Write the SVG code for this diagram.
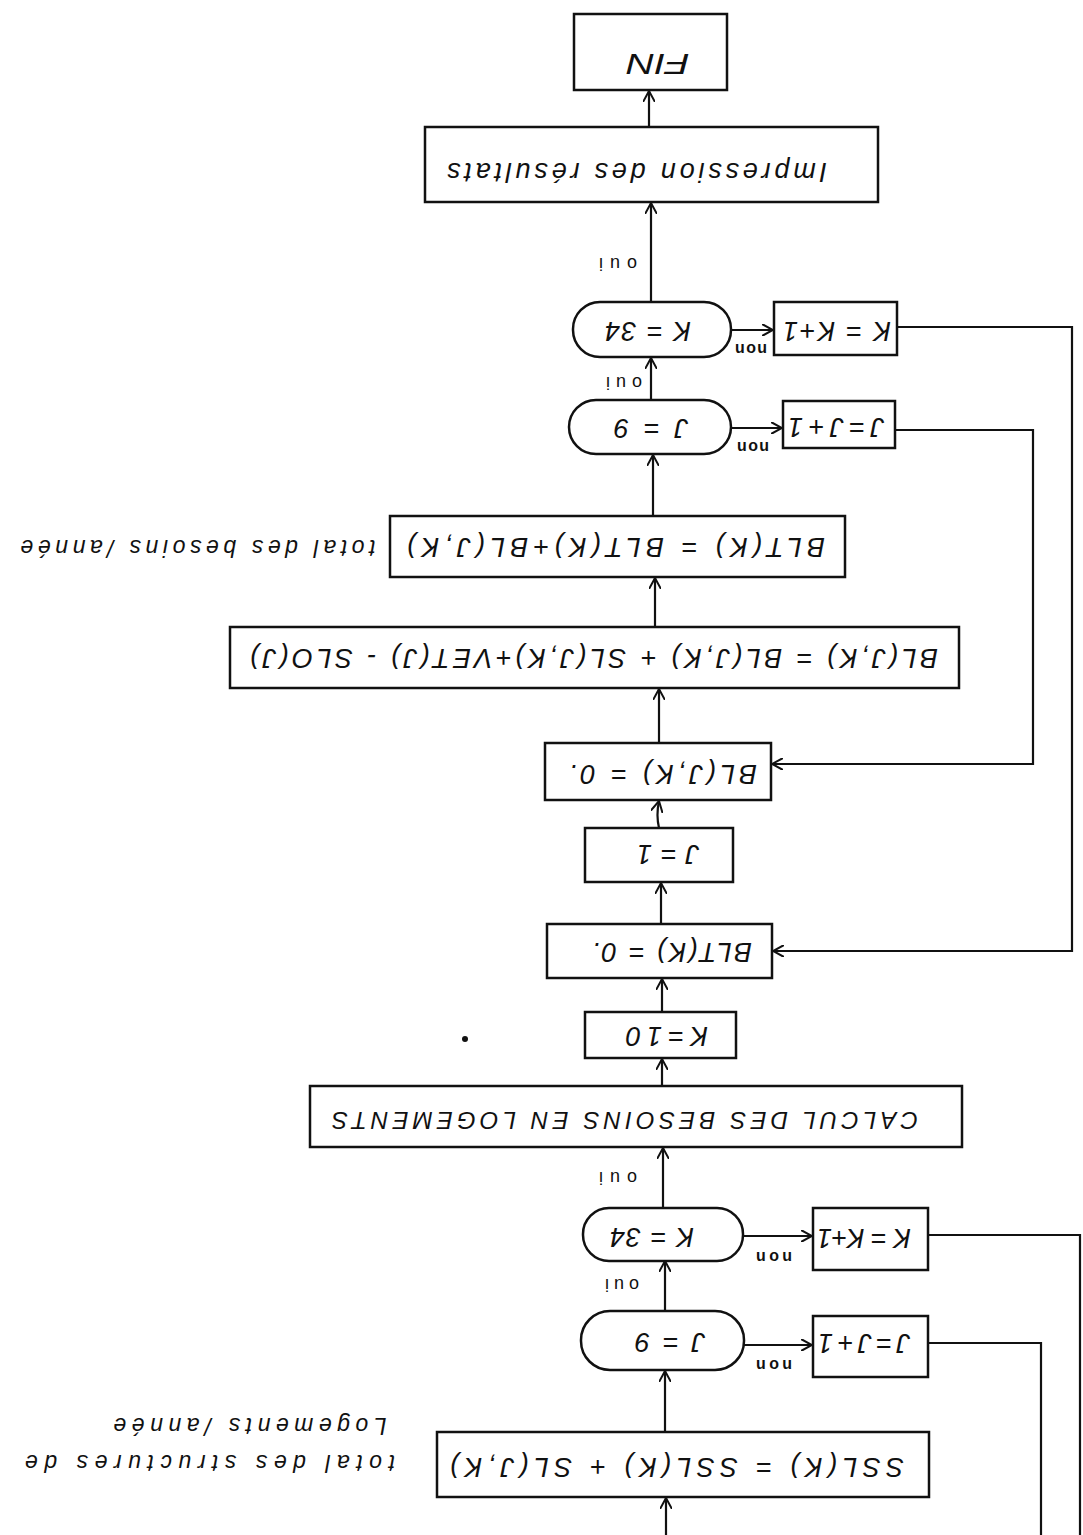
<svg xmlns="http://www.w3.org/2000/svg" width="1083" height="1535" viewBox="0 0 1083 1535">
<defs>
<style>
.b{fill:#fff;stroke:#111;stroke-width:2.5}
.c{fill:none;stroke:#111;stroke-width:2.2}
.t{font-family:"Liberation Sans",Arial,sans-serif;font-style:italic;fill:#111;text-anchor:middle;dominant-baseline:central}
.f{font-size:27px}
.s{font-size:18px;font-style:normal}
.n{font-size:16px;font-style:normal;font-weight:bold}
.a{font-size:23px}
</style>
<marker id="ar" viewBox="0 0 12 12" refX="11" refY="6" markerWidth="12" markerHeight="12" markerUnits="userSpaceOnUse" orient="auto">
<path d="M0,0 L11,6 L0,12" fill="none" stroke="#111" stroke-width="2"/>
</marker>
</defs>
<rect width="1083" height="1535" fill="#fff"/>

<g id="connectors">
<path class="c" d="M649,127 V91" marker-end="url(#ar)"/>
<path class="c" d="M651,302 V203" marker-end="url(#ar)"/>
<path class="c" d="M651,400 V358" marker-end="url(#ar)"/>
<path class="c" d="M653,516 V455" marker-end="url(#ar)"/>
<path class="c" d="M655,627 V578" marker-end="url(#ar)"/>
<path class="c" d="M659,743 V689" marker-end="url(#ar)"/>
<path class="c" d="M659,828 Q656,815 659,801" marker-end="url(#ar)"/>
<path class="c" d="M661,924 V883" marker-end="url(#ar)"/>
<path class="c" d="M662,1012 V979" marker-end="url(#ar)"/>
<path class="c" d="M662,1086 V1059" marker-end="url(#ar)"/>
<path class="c" d="M663,1208 V1148" marker-end="url(#ar)"/>
<path class="c" d="M665,1311 V1261" marker-end="url(#ar)"/>
<path class="c" d="M665,1432 V1371" marker-end="url(#ar)"/>
<path class="c" d="M666,1535 V1498" marker-end="url(#ar)"/>
<path class="c" d="M731,330 H773" marker-end="url(#ar)"/>
<path class="c" d="M897,327 H1072 V951 H773" marker-end="url(#ar)"/>
<path class="c" d="M731,428 H782" marker-end="url(#ar)"/>
<path class="c" d="M895,430 H1033 V764 H772" marker-end="url(#ar)"/>
<path class="c" d="M743,1236 H812" marker-end="url(#ar)"/>
<path class="c" d="M928,1235 H1080 V1535"/>
<path class="c" d="M744,1345 H812" marker-end="url(#ar)"/>
<path class="c" d="M928,1343 H1041 V1535"/>
<text class="t s" transform="rotate(180 618 264)" x="618" y="264" textLength="38" lengthAdjust="spacing">oui</text>
<text class="t s" transform="rotate(180 624 383)" x="624" y="383" textLength="36" lengthAdjust="spacing">oui</text>
<text class="t s" transform="rotate(180 618 1178)" x="618" y="1178" textLength="38" lengthAdjust="spacing">oui</text>
<text class="t s" transform="rotate(180 622 1285)" x="622" y="1285" textLength="34" lengthAdjust="spacing">oui</text>
<text class="t n" transform="rotate(180 751 349)" x="751" y="349" textLength="32" lengthAdjust="spacing">non</text>
<text class="t n" transform="rotate(180 753 447)" x="753" y="447" textLength="32" lengthAdjust="spacing">non</text>
<text class="t n" transform="rotate(180 774 1257)" x="774" y="1257" textLength="36" lengthAdjust="spacing">non</text>
<text class="t n" transform="rotate(180 774 1365)" x="774" y="1365" textLength="36" lengthAdjust="spacing">non</text>
</g>

<g id="fin">
<rect class="b" x="574" y="14" width="153" height="76"/>
<text class="t" font-size="30" transform="rotate(180 658 64)" x="658" y="64" textLength="63" lengthAdjust="spacingAndGlyphs">FIN</text>
</g>
<g id="impression">
<rect class="b" x="425" y="127" width="453" height="75"/>
<text class="t" font-size="27" transform="rotate(180 637 172)" x="637" y="172" textLength="380" lengthAdjust="spacing">Impression des résultats</text>
</g>
<g id="k34a">
<rect class="b" x="573" y="302" width="158" height="55" rx="27"/>
<text class="t f" transform="rotate(180 648 331)" x="648" y="331" textLength="86" lengthAdjust="spacing">K = 34</text>
</g>
<g id="kk1a">
<rect class="b" x="774" y="302" width="123" height="53"/>
<text class="t f" transform="rotate(180 837 331)" x="837" y="331" textLength="108" lengthAdjust="spacing">K = K+1</text>
</g>
<g id="j9a">
<rect class="b" x="569" y="400" width="162" height="54" rx="27"/>
<text class="t f" transform="rotate(180 651 428)" x="651" y="428" textLength="74" lengthAdjust="spacing">J = 9</text>
</g>
<g id="jj1a">
<rect class="b" x="783" y="401" width="112" height="47"/>
<text class="t f" transform="rotate(180 836 427)" x="836" y="427" textLength="96" lengthAdjust="spacing">J=J+1</text>
</g>
<g id="blt">
<rect class="b" x="390" y="516" width="455" height="61"/>
<text class="t f" transform="rotate(180 616 547)" x="616" y="547" textLength="418" lengthAdjust="spacing">BLT(K) = BLT(K)+BL(J,K)</text>
</g>
<text class="t a" transform="rotate(180 198 548)" x="198" y="548" textLength="355" lengthAdjust="spacing">total des besoins /année</text>
<g id="bl">
<rect class="b" x="230" y="627" width="729" height="61"/>
<text class="t f" transform="rotate(180 594 658)" x="594" y="658" textLength="688" lengthAdjust="spacing">BL(J,K) = BL(J,K) + SL(J,K)+VET(J) - SLO(J)</text>
</g>
<g id="bl0">
<rect class="b" x="545" y="743" width="226" height="57"/>
<text class="t f" transform="rotate(180 663 774)" x="663" y="774" textLength="188" lengthAdjust="spacing">BL(J,K) = 0.</text>
</g>
<g id="j1">
<rect class="b" x="585" y="828" width="148" height="54"/>
<text class="t f" transform="rotate(180 668 854)" x="668" y="854" textLength="62" lengthAdjust="spacing">J = 1</text>
</g>
<g id="blt0">
<rect class="b" x="547" y="924" width="225" height="54"/>
<text class="t f" transform="rotate(180 672 952)" x="672" y="952" textLength="160" lengthAdjust="spacing">BLT(K) = 0.</text>
</g>
<g id="k10">
<rect class="b" x="585" y="1012" width="151" height="46"/>
<text class="t f" transform="rotate(180 667 1036)" x="667" y="1036" textLength="82" lengthAdjust="spacing">K=10</text>
</g>
<circle cx="465" cy="1039" r="3" fill="#111"/>
<g id="calcul">
<rect class="b" x="310" y="1086" width="652" height="61"/>
<text class="t" font-size="24" font-style="normal" transform="rotate(180 625 1120)" x="625" y="1120" textLength="586" lengthAdjust="spacing">CALCUL DES BESOINS EN LOGEMENTS</text>
</g>
<g id="k34b">
<rect class="b" x="583" y="1208" width="160" height="53" rx="26"/>
<text class="t f" transform="rotate(180 652 1237)" x="652" y="1237" textLength="84" lengthAdjust="spacing">K = 34</text>
</g>
<g id="kk1b">
<rect class="b" x="813" y="1208" width="115" height="62"/>
<text class="t f" transform="rotate(180 864 1238)" x="864" y="1238" textLength="94" lengthAdjust="spacing">K = K+1</text>
</g>
<g id="j9b">
<rect class="b" x="581" y="1311" width="163" height="59" rx="29"/>
<text class="t f" transform="rotate(180 670 1342)" x="670" y="1342" textLength="70" lengthAdjust="spacing">J = 9</text>
</g>
<g id="jj1b">
<rect class="b" x="813" y="1316" width="115" height="61"/>
<text class="t f" transform="rotate(180 864 1343)" x="864" y="1343" textLength="92" lengthAdjust="spacing">J=J+1</text>
</g>
<g id="ssl">
<rect class="b" x="437" y="1432" width="492" height="65"/>
<text class="t f" transform="rotate(180 677 1467)" x="677" y="1467" textLength="454" lengthAdjust="spacing">SSL(K) = SSL(K) + SL(J,K)</text>
</g>
<text class="t a" transform="rotate(180 210 1463)" x="210" y="1463" textLength="370" lengthAdjust="spacing">total des structures de</text>
<text class="t a" transform="rotate(180 250 1426)" x="250" y="1426" textLength="273" lengthAdjust="spacing">Logements /année</text>
</svg>
